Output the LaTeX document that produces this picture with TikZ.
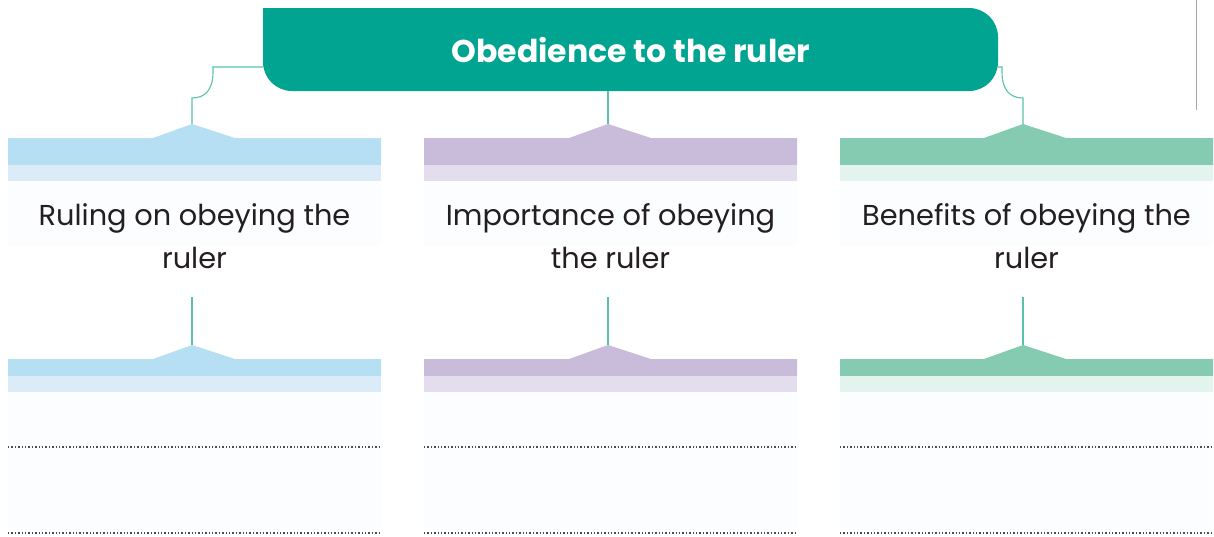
\documentclass[tikz,border=0pt]{standalone}
\usepackage{fontspec}
\setmainfont{Poppins}
\begin{document}
\begin{tikzpicture}[x=1pt,y=-1pt,
  conn/.style={draw=linkc, line width=1.1pt},
  lbl/.style={text=txtc, font=\fontsize{28.8}{43}\selectfont, align=center},
  dots/.style={draw=gray!60!black, line width=1.4pt, dash pattern=on 1.4pt off 2pt}]
\definecolor{tealc}{HTML}{00A490}
\definecolor{linkc}{HTML}{5AC2AC}
\definecolor{txtc}{HTML}{231F20}
\definecolor{bd}{HTML}{B7DFF4}\definecolor{bl}{HTML}{DBECF8}
\definecolor{pd}{HTML}{C9BCDB}\definecolor{pl}{HTML}{E4DDED}
\definecolor{gd}{HTML}{84CBB2}\definecolor{gl}{HTML}{E3F3EE}
\definecolor{faint}{HTML}{FBFDFE}
\useasboundingbox (0,0) rectangle (1214,536);
\fill[white] (0,0) rectangle (1214,536);
% right gray rule
\draw[gray!70, line width=1pt] (1196,0) -- (1196,110);
% title
\node[fill=tealc, rounded corners=29pt, minimum width=735pt, minimum height=83pt, inner sep=0pt] (title) at (630.5,49.5) {};
\fill[tealc] (263,8) rectangle (320,50);
\node[text=white, font=\fontsize{31.5}{33}\selectfont\bfseries] (titletext) at (631,50) {Obedience to the ruler};
% columns
\foreach \n/\L/\P/\D/\Li/\T in {a/8/192/bd/bl/{Ruling on obeying the\\ruler},
                                b/424/608/pd/pl/{Importance of obeying\\the ruler},
                                c/840/1023/gd/gl/{Benefits of obeying the\\ruler}}{
  \pgfmathsetmacro{\R}{\L+373}
  \pgfmathsetmacro{\C}{\L+186.5}
  % upper header
  \fill[faint] (\L,181) rectangle (\R,246);
  \fill[\D] (\L,138) -- (\P-39,138) -- (\P,124) -- (\P+43,138) -- (\R,138) -- (\R,165) -- (\L,165) -- cycle;
  \fill[\Li] (\L,165) rectangle (\R,181);
  \coordinate (peak\n) at (\P,124);
  \node[lbl] (text\n) at (\C,236) {\T};
  % lower header
  \fill[faint] (\L,392) rectangle (\R,536);
  \fill[\D] (\L,359) -- (\P-39,359) -- (\P,345) -- (\P+43,359) -- (\R,359) -- (\R,376) -- (\L,376) -- cycle;
  \fill[\Li] (\L,376) rectangle (\R,392);
  \coordinate (lpeak\n) at (\P,345);
  \coordinate (lstart\n) at (\P,297);
  \draw[conn] (lstart\n) -- (lpeak\n);
  \coordinate (dA\n) at (\L,447);
  \coordinate (dB\n) at (\R,447);
  \coordinate (dC\n) at (\L,533);
  \coordinate (dD\n) at (\R,533);
  \draw[dots] (dA\n) -- (dB\n);
  \draw[dots] (dC\n) -- (dD\n);
}
% connectors from title
\coordinate (tleft) at (title.west |- 0,67);
\coordinate (tright) at (title.east |- 0,67);
\coordinate (tmid) at (608,91);
\draw[conn] (tleft) -- (213,67) -- (213,72) .. controls (213,90) and (205,98) .. (192,98) -- (peaka);
\draw[conn] (tright) -- (1002,67) -- (1002,72) .. controls (1002,90) and (1010,98) .. (1023,98) -- (peakc);
\draw[conn] (tmid) -- (peakb);
\end{tikzpicture}
\end{document}
